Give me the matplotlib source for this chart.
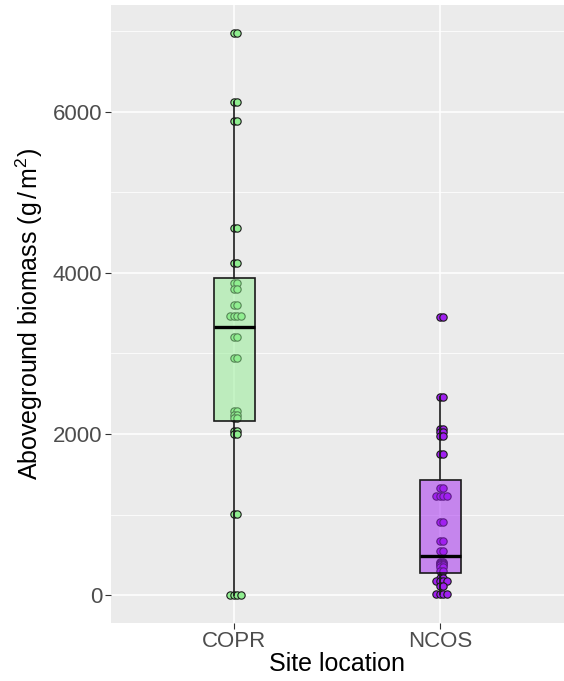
import numpy as np
import matplotlib
matplotlib.use("Agg")
import matplotlib.pyplot as plt
from matplotlib.ticker import MultipleLocator

plt.rcParams['font.family'] = ['Liberation Sans', 'DejaVu Sans']
plt.rcParams['mathtext.fontset'] = 'custom'
plt.rcParams['mathtext.rm'] = 'Liberation Sans'
plt.rcParams['mathtext.it'] = 'Liberation Sans'

sites = ["COPR", "NCOS"]

# biomass per plot (g/m2)
copr = [6978, 6978, 6118, 6118, 5885, 5885, 4560, 4560, 4124, 4124,
        3870, 3870, 3800, 3800, 3600, 3600, 3460, 3460, 3460, 3460,
        3206, 3206, 2940, 2940, 2285, 2285, 2240, 2240, 2200, 2200,
        2040, 2040, 1995, 1995, 1005, 1005, 0, 0, 0, 0]
ncos = [3447, 3447, 2459, 2459, 2060, 2060, 2025, 2025, 1980, 1980,
        1749, 1749, 1329, 1329, 1225, 1225, 1225, 1225, 901, 901,
        673, 673, 548, 548, 415, 415, 400, 400, 385, 385,
        370, 370, 350, 350, 300, 300, 215, 215, 170, 170,
        170, 170, 110, 110, 15, 15, 15, 15]

point_colors = ["#90EE90", "#A020F0"]


def swarm_offsets(values, step=0.018):
    # spread tied values side by side around the category centre
    values = np.asarray(values)
    offs = np.zeros(len(values))
    for v in np.unique(values):
        idx = np.where(values == v)[0]
        k = len(idx)
        offs[idx] = (np.arange(k) - (k - 1) / 2) * step + 0.006
    return offs


fig = plt.figure(figsize=(5.64, 6.81), dpi=100)
ax = fig.add_axes([0.196, 0.085, 0.804, 0.9075])
ax.set_facecolor("#EBEBEB")

ax.set_xlim(0.4, 2.6)
ax.set_ylim(-349, 7327)
ax.yaxis.set_major_locator(MultipleLocator(2000))
ax.yaxis.set_minor_locator(MultipleLocator(1000))
ax.grid(True, which="major", color="white", linewidth=1.1, zorder=0)
ax.grid(True, which="minor", axis="y", color="white", linewidth=0.55, zorder=0)
ax.set_axisbelow(True)

data = [copr, ncos]
for i, vals in enumerate(data):
    xs = i + 1 + swarm_offsets(vals)
    ax.scatter(xs, vals, s=28, facecolor=point_colors[i], edgecolor="#1a1a1a",
               linewidth=0.8, zorder=2)

bp = ax.boxplot(data, positions=[1, 2], widths=0.2, patch_artist=True,
                showfliers=False, showcaps=False, zorder=3,
                boxprops=dict(edgecolor="#1a1a1a", linewidth=1.2),
                whiskerprops=dict(color="#1a1a1a", linewidth=1.2),
                medianprops=dict(color="black", linewidth=2.4))
for patch, c in zip(bp["boxes"], point_colors):
    patch.set_facecolor(matplotlib.colors.to_rgba(c, 0.5))

ax.set_xticks([1, 2])
ax.set_xticklabels(sites)
for s in ax.spines.values():
    s.set_visible(False)
ax.tick_params(axis="both", which="major", length=4, width=0.8, color="#333333",
               labelsize=16, labelcolor="#4D4D4D", pad=2)
ax.tick_params(axis="y", which="minor", length=0)

ax.set_xlabel("Site location", fontsize=18, color="black")
ax.set_ylabel(r"Aboveground biomass (g$\,/\,$m$^2$)", fontsize=18, color="black")
ax.xaxis.set_label_coords(0.5, -0.047)
ax.yaxis.set_label_coords(-0.145, 0.5)

fig.savefig("out.png", dpi=100)
